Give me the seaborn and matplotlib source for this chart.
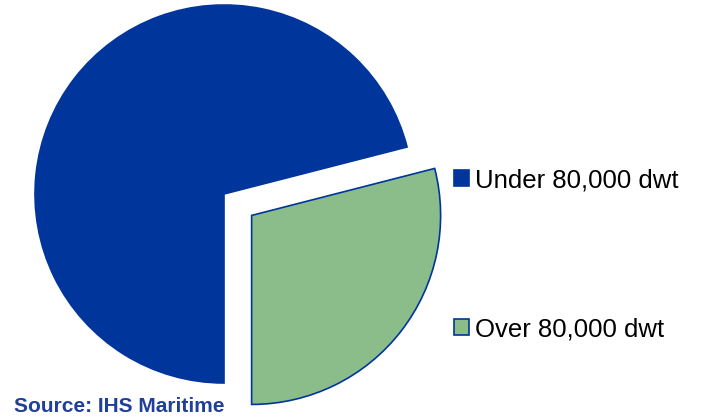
import matplotlib
matplotlib.use("Agg")
import matplotlib.pyplot as plt
import seaborn as sns

# Share of fleet by vessel size
categories = ["Under 80,000 dwt", "Over 80,000 dwt"]
shares = [71, 29]
colors = ["#00359C", "#8BBD8B"]

sns.set_theme(style="white")
plt.rcParams["font.family"] = ["Liberation Sans", "DejaVu Sans"]

fig = plt.figure(figsize=(7.06, 4.17), dpi=100)
ax = fig.add_axes([0, 0, 1, 1])

start = 270 - shares[0] / sum(shares) * 360
wedges, _ = ax.pie(
    shares,
    colors=colors,
    explode=[0, 0.185],
    startangle=start,
    counterclock=True,
    wedgeprops=dict(edgecolor="#00359C", linewidth=1.2),
)

# Data coordinates chosen so the pie sits left with room for the legend
scale = 189.0
ax.set_xlim(-224 / scale, (706 - 224) / scale)
ax.set_ylim(-(417 - 194) / scale, 194 / scale)
ax.set_aspect("equal")
ax.axis("off")

leg = ax.legend(
    wedges,
    categories,
    loc="center left",
    bbox_to_anchor=(454 / 706, 1 - 254.75 / 417),
    frameon=False,
    fontsize=18.5,
    labelcolor="black",
    handlelength=0.58,
    handleheight=0.58,
    handletextpad=0.22,
    labelspacing=4.86,
    borderpad=0,
    borderaxespad=0,
)

fig.text(14 / 706, 1 - 407 / 417, "Source: IHS Maritime", fontsize=15,
         fontweight="bold", color="#1F3F99", va="center", ha="left")

fig.savefig("out.png", dpi=100)
